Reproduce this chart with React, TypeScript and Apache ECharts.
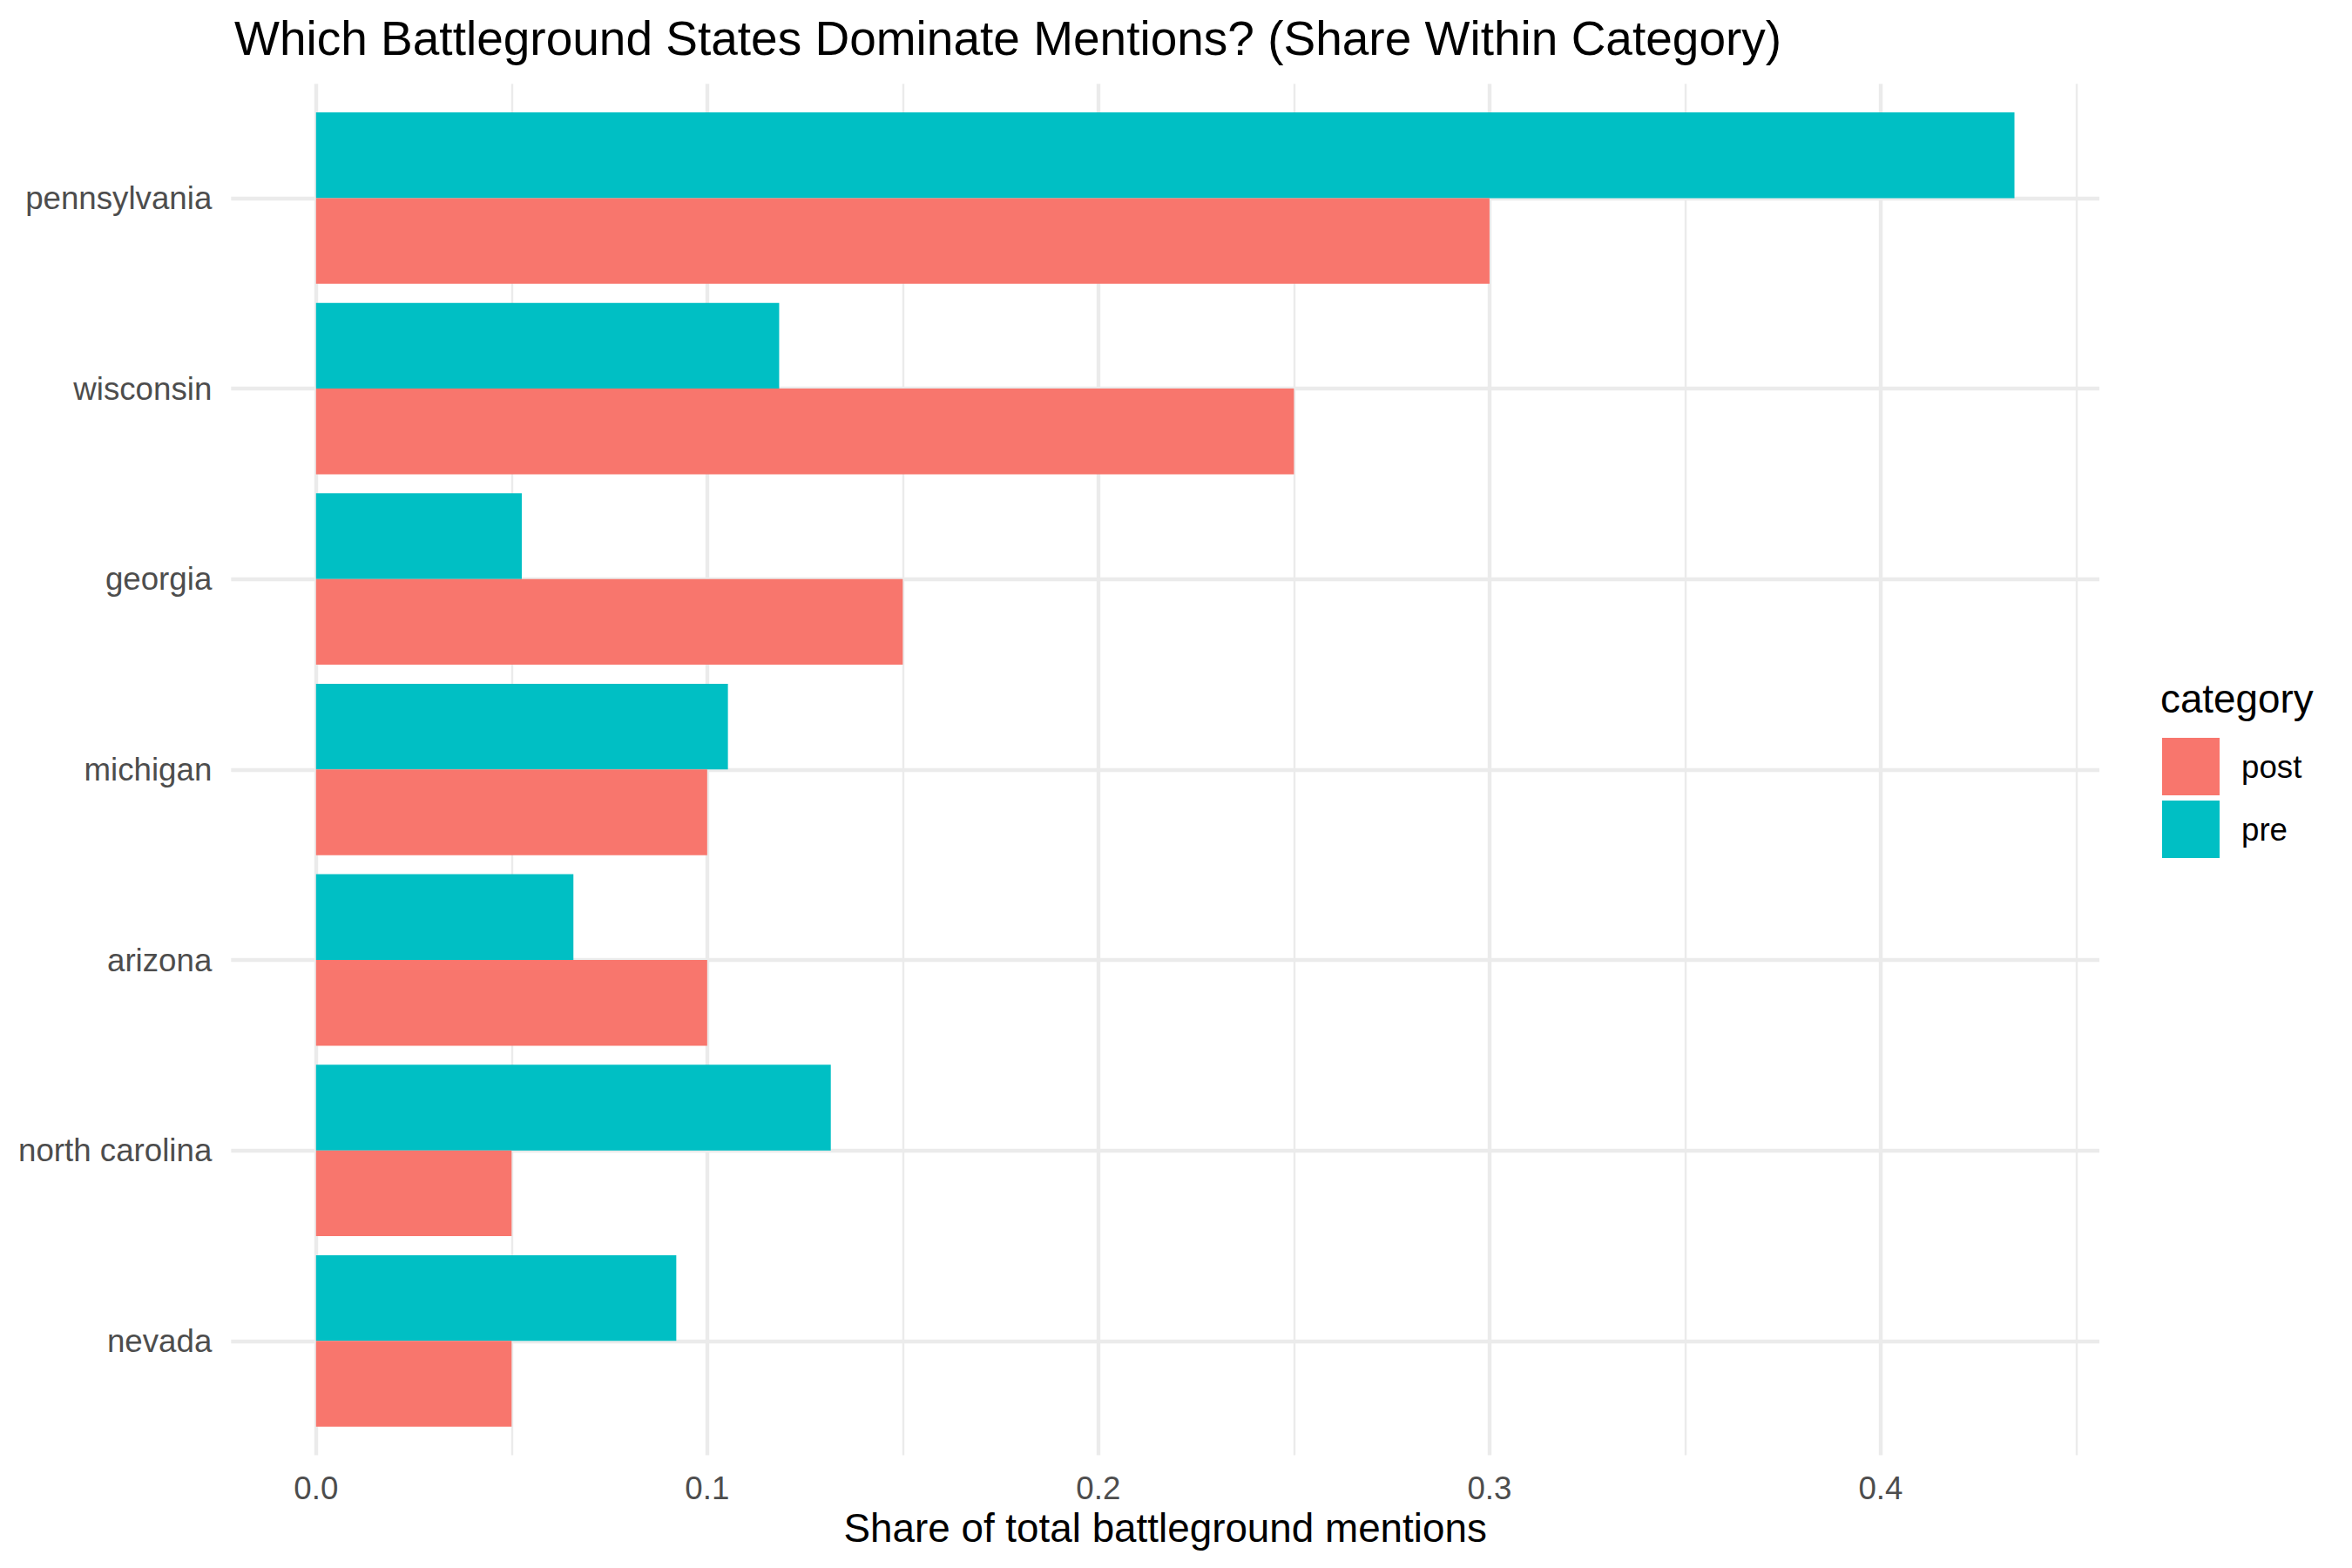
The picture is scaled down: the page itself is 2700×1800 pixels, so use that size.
import React, { useEffect, useRef } from 'react';
import * as echarts from 'echarts';

// ---- data ----
const states = ['pennsylvania', 'wisconsin', 'georgia', 'michigan', 'arizona', 'north carolina', 'nevada'];
const postShare = [0.30, 0.25, 0.15, 0.10, 0.10, 0.05, 0.05];
const preShare = [0.4342, 0.1184, 0.0526, 0.1053, 0.0658, 0.1316, 0.0921];
const categoryNames = ['post', 'pre'];
const xTicks = [0, 0.1, 0.2, 0.3, 0.4];

const titleText = 'Which Battleground States Dominate Mentions? (Share Within Category)';
const xTitle = 'Share of total battleground mentions';
const legendTitle = 'category';

const W = 2700;
const H = 1800;
const FONT = '"Liberation Sans", Arial, Helvetica, sans-serif';
const POST = '#F8766D';
const PRE = '#00BFC4';
const GRID = '#EBEBEB';

export default function App() {
  const ref = useRef<HTMLDivElement>(null);
  useEffect(() => {
    document.body.style.margin = '0';
    if (!ref.current) return;
    const chart = echarts.init(ref.current, null, { renderer: 'svg', width: W, height: H });

    // panel (ggplot-like) geometry
    const panelLeft = 265.3, panelRight = 2410, panelTop = 96.2, panelBottom = 1670.5;
    const band = (panelBottom - panelTop) / (states.length + 0.2);
    const barTop = panelTop + 0.1 * band;
    const barBottom = panelBottom - 0.1 * band;
    const dataMax = Math.max(...preShare, ...postShare);
    const xmin = -0.05 * dataMax;
    const xmax = 1.05 * dataMax;
    const scale = (panelRight - panelLeft) / (xmax - xmin);
    const x0 = panelLeft + (0 - xmin) * scale;
    const step = xTicks[1] - xTicks[0];
    const majorMax = xTicks[xTicks.length - 1] + step;
    const gridARight = W - (x0 + majorMax * scale);
    const gridBLeft = x0 - (step / 2) * scale;

    const option: any = {
      animation: false,
      backgroundColor: '#ffffff',
      textStyle: { fontFamily: FONT },
      title: [
        { text: titleText, left: 269, top: 16, padding: 0,
          textStyle: { fontSize: 55, fontWeight: 'normal', color: '#000', fontFamily: FONT } },
        { text: xTitle, left: (panelLeft + panelRight) / 2, top: 1731, padding: 0, textAlign: 'center',
          textStyle: { fontSize: 45.8, fontWeight: 'normal', color: '#000', fontFamily: FONT } },
        { text: legendTitle, left: 2480, top: 779, padding: 0,
          textStyle: { fontSize: 45.8, fontWeight: 'normal', color: '#000', fontFamily: FONT } },
      ],
      legend: {
        orient: 'vertical', left: 2482, top: 847, padding: 0,
        itemWidth: 66, itemHeight: 66, itemGap: 6, icon: 'rect',
        data: categoryNames,
        textStyle: { fontSize: 36.7, color: '#000', fontFamily: FONT, padding: [0, 0, 0, 20] },
      },
      grid: [
        { left: panelLeft, right: W - panelRight, top: barTop, bottom: H - barBottom },
        { left: x0, right: gridARight, top: panelTop, bottom: H - panelBottom },
        { left: gridBLeft, right: gridARight, top: panelTop, bottom: H - panelBottom },
      ],
      xAxis: [
        { gridIndex: 0, type: 'value', min: xmin, max: xmax, show: false },
        { gridIndex: 1, type: 'value', min: xTicks[0], max: majorMax, interval: step,
          axisLine: { show: false }, axisTick: { show: false },
          axisLabel: { show: true, formatter: (v: number) => v.toFixed(1), showMaxLabel: false, showMinLabel: true,
            fontSize: 36.7, color: '#4D4D4D', margin: 19, fontFamily: FONT },
          splitLine: { show: true, showMaxLine: false, showMinLine: true, lineStyle: { color: GRID, width: 4.4 } } },
        { gridIndex: 2, type: 'value', min: -step / 2, max: majorMax, interval: step,
          axisLine: { show: false }, axisTick: { show: false }, axisLabel: { show: false },
          splitLine: { show: true, showMaxLine: false, showMinLine: false, lineStyle: { color: GRID, width: 2.4 } } },
      ],
      yAxis: [
        { gridIndex: 0, type: 'category', data: states, inverse: true,
          axisLine: { show: false }, axisTick: { show: false },
          axisLabel: { fontSize: 36.7, color: '#4D4D4D', margin: 22, interval: 0, fontFamily: FONT },
          splitLine: { show: true, alignWithLabel: true, interval: 0, lineStyle: { color: GRID, width: 4.4 } } },
        { gridIndex: 1, type: 'value', min: 0, max: 1, show: false },
        { gridIndex: 2, type: 'value', min: 0, max: 1, show: false },
      ],
      series: [
        { name: categoryNames[1], type: 'bar', xAxisIndex: 0, yAxisIndex: 0, data: preShare,
          itemStyle: { color: PRE }, barGap: '0%', barCategoryGap: '10%', z: 3 },
        { name: categoryNames[0], type: 'bar', xAxisIndex: 0, yAxisIndex: 0, data: postShare,
          itemStyle: { color: POST }, barGap: '0%', barCategoryGap: '10%', z: 3 },
      ],
    };
    chart.setOption(option);
    return () => chart.dispose();
  }, []);
  return <div ref={ref} style={{ width: W, height: H }} />;
}
